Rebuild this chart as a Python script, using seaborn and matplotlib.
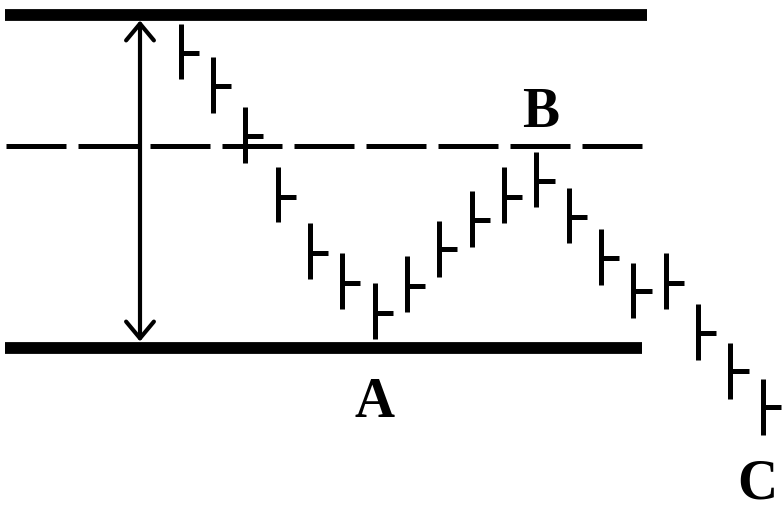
import matplotlib
matplotlib.use("Agg")
import matplotlib.pyplot as plt
import matplotlib.transforms as mtransforms
import numpy as np
import pandas as pd
import seaborn as sns

# Daily price bars: high, low and close for each trading session
session = np.arange(1, 20)
high = [48.8, 45.5, 40.5, 34.5, 28.9, 25.9, 22.9, 25.6, 29.1, 32.1,
        34.5, 36.0, 32.4, 28.3, 24.9, 25.9, 20.8, 16.9, 13.3]
low = [43.3, 39.9, 34.9, 29.0, 23.3, 20.3, 17.3, 20.0, 23.5, 26.5,
       28.9, 30.5, 26.9, 22.7, 19.4, 20.3, 15.2, 11.3, 7.7]
close = [45.9, 42.6, 37.6, 31.5, 25.9, 22.9, 19.9, 22.6, 26.3, 29.2,
         31.5, 33.1, 29.5, 25.4, 22.1, 22.9, 17.9, 14.1, 10.5]

# Trading range levels
resistance = 49.75
support = 16.45
midline = 36.65

# Swing-point labels
point_labels = ["A", "B", "C"]
point_sessions = [7, 12, 19]

sns.set_theme(style="white")
plt.rcParams["font.family"] = ["Liberation Serif", "DejaVu Serif"]

fig = plt.figure(figsize=(7.82, 5.12), dpi=100)
ax = fig.add_axes([0, 0, 1, 1])
ax.set_xlim(-4.581, 19.592)
ax.set_ylim(0, 51.2)
ax.axis("off")

bar_lw = 3.6
tick_len = 0.56

# High-low range of each bar
ranges = pd.DataFrame({
    "session": np.repeat(session, 2),
    "price": np.column_stack([low, high]).ravel(),
    "bar": np.repeat(session, 2),
})
sns.lineplot(data=ranges, x="session", y="price", units="bar", estimator=None,
             sort=False, color="black", lw=bar_lw, solid_capstyle="butt",
             legend=False, ax=ax)

# Closing tick on the right side of each bar
closes = pd.DataFrame({
    "session": np.column_stack([session, session + tick_len]).ravel(),
    "price": np.repeat(close, 2),
    "bar": np.repeat(session, 2),
})
sns.lineplot(data=closes, x="session", y="price", units="bar", estimator=None,
             sort=False, color="black", lw=bar_lw, solid_capstyle="butt",
             legend=False, ax=ax)

# Resistance, support and the dashed mid level
ax.axhline(resistance, xmin=5 / 782, xmax=647 / 782, color="black", lw=8.5,
           solid_capstyle="butt")
ax.axhline(support, xmin=5 / 782, xmax=642 / 782, color="black", lw=8.5,
           solid_capstyle="butt")
ax.axhline(midline, xmin=6 / 782, xmax=645 / 782, color="black", lw=3.6,
           linestyle=(0, (12, 2.4)), dash_capstyle="butt")

# Height of the trading range
trans = mtransforms.blended_transform_factory(ax.transAxes, ax.transData)
ax.annotate("", xy=(140 / 782, support), xytext=(140 / 782, resistance),
            xycoords=trans, textcoords=trans,
            arrowprops=dict(arrowstyle="<->,head_length=0.6,head_width=0.5",
                            mutation_scale=20, lw=3, color="black",
                            shrinkA=4.3, shrinkB=4.3))

# Swing-point letters
offsets = {"A": (0, -56), "B": (3, 18), "C": (-4, -46)}
for lab, s in zip(point_labels, point_sessions):
    i = s - 1
    anchor = high[i] if offsets[lab][1] > 0 else low[i]
    ax.annotate(lab, xy=(s, anchor), xytext=offsets[lab],
                textcoords="offset points", ha="center", va="baseline",
                fontsize=40, fontweight="bold", color="black")

fig.savefig("out.png", dpi=100)
